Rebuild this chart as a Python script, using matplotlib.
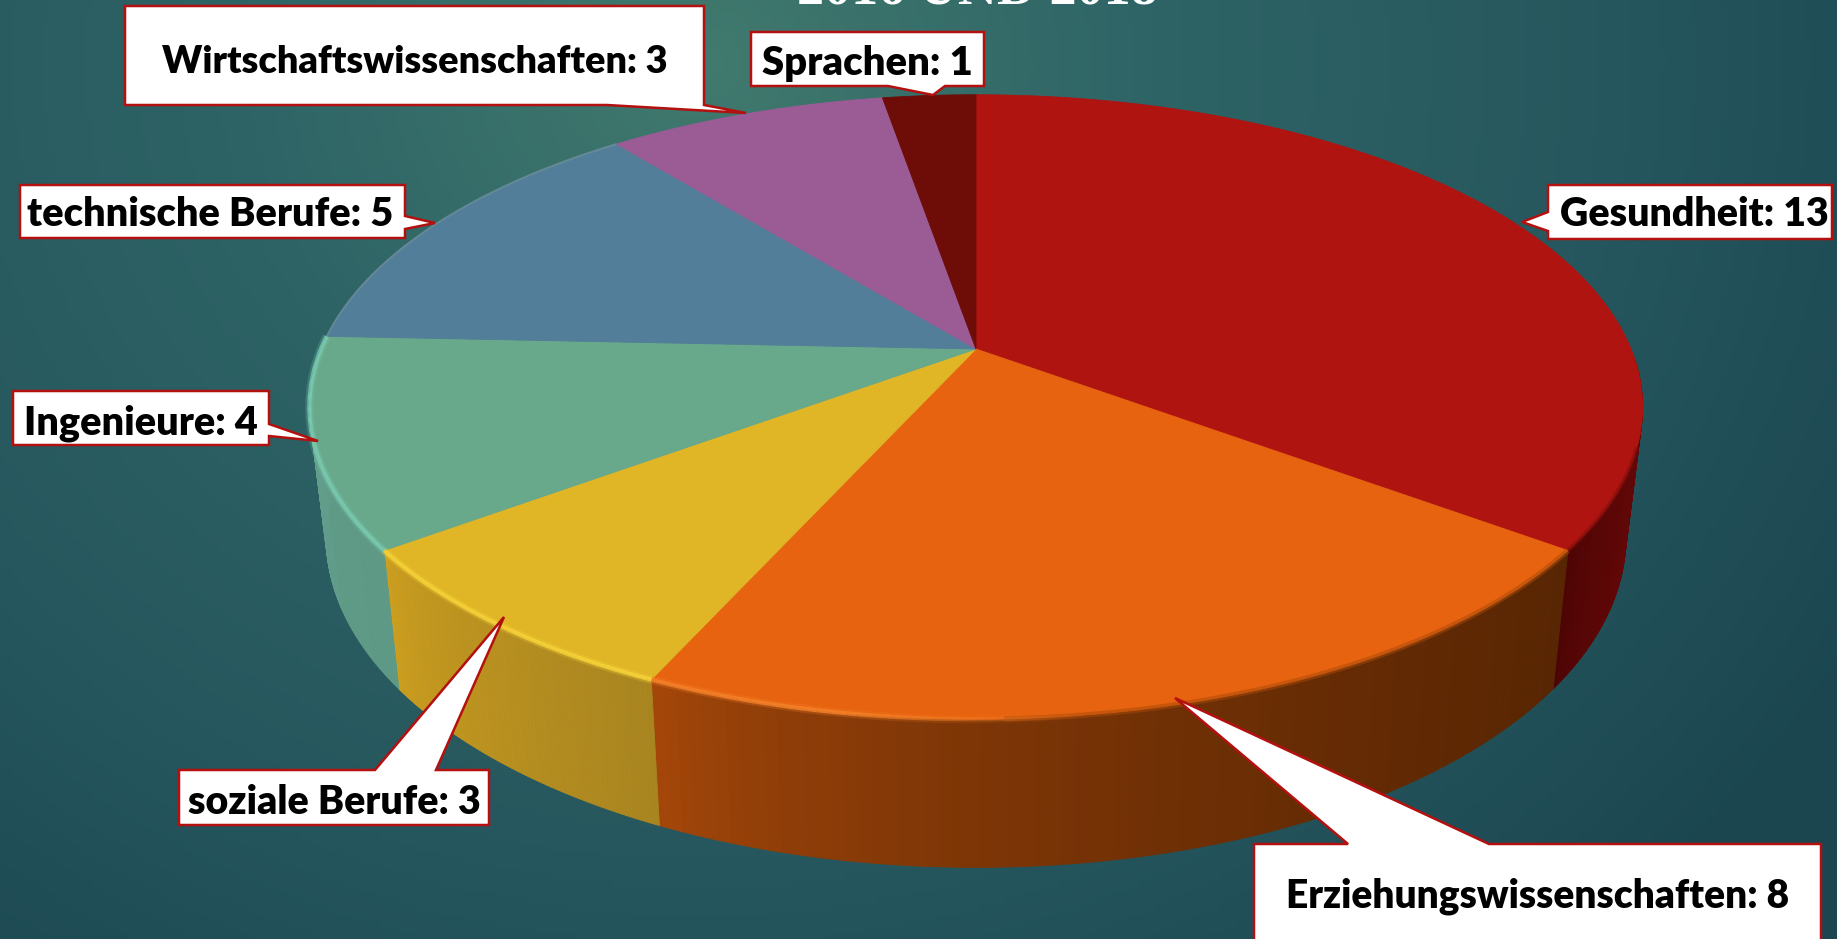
import numpy as np
import matplotlib
matplotlib.use("Agg")
import matplotlib.pyplot as plt
from matplotlib.collections import PolyCollection, LineCollection
from matplotlib.colors import LinearSegmentedColormap, to_rgb

# values, clockwise from the top
categories = ["Gesundheit", "Erziehungswissenschaften", "soziale Berufe", "Ingenieure",
              "technische Berufe", "Wirtschaftswissenschaften", "Sprachen"]
values = [13, 8, 3, 4, 5, 3, 1]
title = "2016 UND 2018"

top_colors = ["#b01410", "#e8630f", "#e0b526", "#68a98c", "#537e99", "#9b5c96", "#6e0c08"]
# side wall colour at the left and right end of each slice
wall_left = ["#4c0404", "#a8480a", "#cfa01f", "#629c8a", "#537e99", "#9b5c96", "#6e0c08"]
wall_right = ["#620707", "#592603", "#a98520", "#5e9a86", "#537e99", "#9b5c96", "#6e0c08"]
rim_colors = ["#8c1010", "#f5822a", "#f8d53a", "#7ccdb2", "#7d98a0", None, None]

W, H = 1837, 939
fig = plt.figure(figsize=(W / 100, H / 100), dpi=100)
ax = fig.add_axes([0, 0, 1, 1])
ax.set_xlim(0, W)
ax.set_ylim(H, 0)
ax.axis("off")

# background glow
xx, yy = np.meshgrid(np.linspace(0, W, 300), np.linspace(0, H, 160))
dist = np.clip(np.sqrt(((xx - 700) / 1350) ** 2 + ((yy - 60) / 1200) ** 2), 0, 1)
bg = LinearSegmentedColormap.from_list("bg", ["#417a6e", "#2e6466", "#26575e", "#1b4650"])
ax.imshow(dist, cmap=bg, vmin=0, vmax=1, extent=[0, W, H, 0], aspect="auto", zorder=0)


# perspective view of the pie disc; theta runs clockwise from the top
def project(theta, cx, cy, a, b, k=0.1857):
    u = np.sin(theta)
    v = np.cos(theta)
    w = 1 + k * v
    return cx + a * u / w, cy - b * v / w


def top_face(theta):
    return project(theta, 976, 349, 655, 301.5)


def bottom_face(theta):
    return project(theta, 976, 476, 638.5, 318.7)


edges = np.cumsum([0] + values) / sum(values) * 2 * np.pi

# side wall
polys = []
cols = []
for i in range(len(values)):
    t0 = max(edges[i], np.radians(92))
    t1 = min(edges[i + 1], np.radians(268))
    if t1 <= t0:
        continue
    th = np.linspace(t0, t1, 80)
    xt, yt = top_face(th)
    xb, yb = bottom_face(th)
    c0 = np.array(to_rgb(wall_left[i]))
    c1 = np.array(to_rgb(wall_right[i]))
    lo, hi = xt.min(), xt.max()
    for j in range(len(th) - 1):
        polys.append([(xt[j], yt[j]), (xt[j + 1], yt[j + 1]), (xb[j + 1], yb[j + 1]), (xb[j], yb[j])])
        f = (((xt[j] + xt[j + 1]) / 2 - lo) / (hi - lo)) ** 0.6
        cols.append(c0 + (c1 - c0) * f)
ax.add_collection(PolyCollection(polys, facecolors=cols, edgecolors=cols, linewidths=0.6, zorder=2))

# top of the pie
for i in range(len(values)):
    th = np.linspace(edges[i], edges[i + 1], 150)
    x, y = top_face(th)
    ax.fill(np.r_[976, x], np.r_[349, y], color=top_colors[i], lw=0.6, zorder=3)

# soft shaded edge where the top meets the wall on the right
th = np.linspace(np.radians(108), edges[1], 160)
x, y = top_face(th)
ax.plot(x, y, color="#7a0d0b", lw=3, alpha=0.5, solid_capstyle="butt", zorder=4)
th = np.linspace(edges[1], np.radians(178), 160)
x, y = top_face(th)
ax.plot(x, y, color="#a84a0a", lw=4, alpha=0.5, solid_capstyle="butt", zorder=4)


# lit rim along the front edge, fading in from start_fade to t_full
def rim(t0, t1, color, lw, alpha, fade=None):
    th = np.linspace(t0, t1, 200)
    x, y = top_face(th)
    pts = np.column_stack([x, y])
    segs = np.stack([pts[:-1], pts[1:]], axis=1)
    a = np.full(len(segs), alpha)
    if fade is not None:
        a = alpha * np.clip((th[:-1] - t0) / fade, 0, 1)
    rgba = [to_rgb(color) + (v,) for v in a]
    ax.add_collection(LineCollection(segs, colors=rgba, linewidths=lw, capstyle="butt", zorder=4))


for i in range(1, 5):
    t0 = edges[i]
    t1 = edges[i + 1]
    fade = None
    if i == 1:
        t0 = np.radians(172)
        fade = np.radians(18)
    if i == 4:
        rim(t0, t1, rim_colors[i], 1.5, 0.5)
        continue
    rim(t0, t1, rim_colors[i], 6, 0.25, fade)
    rim(t0, t1, rim_colors[i], 3, 0.85, fade)

# callouts: box left, top, right, bottom, pointer base and tip
RED = "#b3100f"
callouts = [
    ("Gesundheit: 13", (1548, 185, 1832, 239), [(1548, 212), (1522, 222), (1548, 231)]),
    ("Erziehungswissenschaften: 8", (1254, 844, 1821, 960), [(1348, 844), (1175, 698), (1489, 844)]),
    ("soziale Berufe: 3", (179, 770, 489, 825), [(375, 770), (504, 617), (436, 770)]),
    ("Ingenieure: 4", (13, 391, 269, 445), [(269, 424), (318, 441), (269, 436)]),
    ("technische Berufe: 5", (20, 185, 405, 238), [(405, 216), (435, 223), (405, 229)]),
    ("Wirtschaftswissenschaften: 3", (125, 6, 704, 105), [(607, 105), (746, 113), (704, 105)]),
    ("Sprachen: 1", (751, 32, 984, 86), [(888, 86), (933, 95), (945, 86)]),
]
text_y = [215, 896, 803, 423, 215, 62, 64]
text_dx = [4, 0, 0, 0, -2, 0, 0]
text_size = [28.3, 28, 28.3, 28.5, 28.6, 27.3, 28.8]
for (label, box, ptr), ty, dx, fs in zip(callouts, text_y, text_dx, text_size):
    l, t, r, b = box
    if ptr[0][0] == l:
        outline = [(l, t), (r, t), (r, b), (l, b), ptr[2], ptr[1], ptr[0]]
    elif ptr[0][0] == r:
        outline = [(l, t), (r, t), ptr[0], ptr[1], ptr[2], (r, b), (l, b)]
    elif ptr[0][1] == t:
        outline = [(l, t), ptr[0], ptr[1], ptr[2], (r, t), (r, b), (l, b)]
    else:
        outline = [(l, t), (r, t), (r, b), ptr[2], ptr[1], ptr[0], (l, b)]
    xs, ys = zip(*outline)
    ax.fill(xs, ys, facecolor="white", edgecolor=RED, lw=1.8, joinstyle="miter", zorder=6)
    ax.text((l + r) / 2 + dx, ty, label, ha="center", va="center", color="black",
            family="Lato", weight=800, fontsize=fs, zorder=7)

ax.text(977, 4, title, ha="center", va="baseline", color="white", family="Liberation Serif",
        weight="bold", fontsize=39, zorder=5)

fig.savefig("out.png", dpi=100)
